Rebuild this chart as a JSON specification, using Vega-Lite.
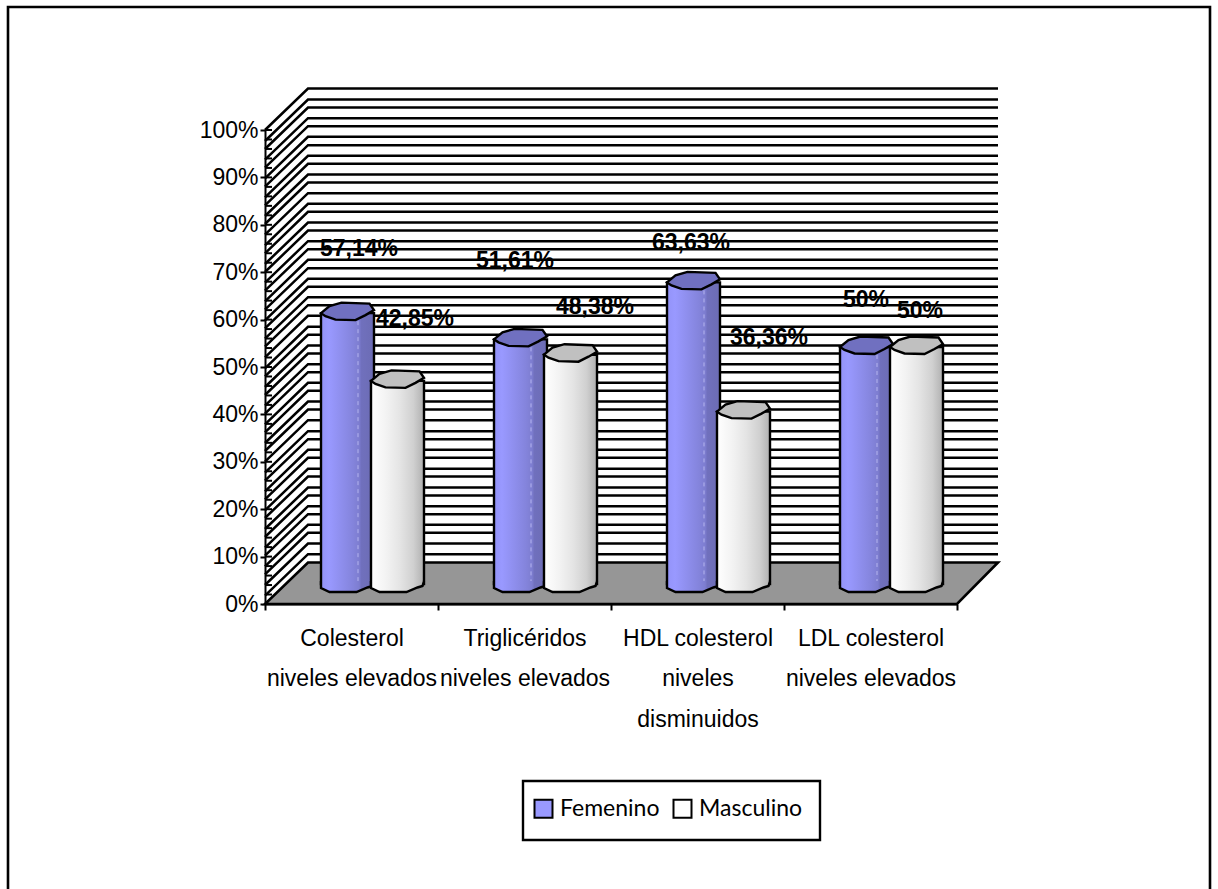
{
"$schema":"https://vega.github.io/schema/vega-lite/v6.json",
"width":692,"height":474,
"padding":{"left":2,"top":1,"right":0,"bottom":0},
"background":"#ffffff",
"config":{"view":{"stroke":null},"font":"Liberation Sans"},
"datasets":{
"lecturas":[
{"categoria":"Colesterol|niveles elevados","serie":"Femenino","valor":57.14,"etiqueta":"57,14%"},
{"categoria":"Colesterol|niveles elevados","serie":"Masculino","valor":42.85,"etiqueta":"42,85%"},
{"categoria":"Triglicéridos|niveles elevados","serie":"Femenino","valor":51.61,"etiqueta":"51,61%"},
{"categoria":"Triglicéridos|niveles elevados","serie":"Masculino","valor":48.38,"etiqueta":"48,38%"},
{"categoria":"HDL colesterol|niveles|disminuidos","serie":"Femenino","valor":63.63,"etiqueta":"63,63%"},
{"categoria":"HDL colesterol|niveles|disminuidos","serie":"Masculino","valor":36.36,"etiqueta":"36,36%"},
{"categoria":"LDL colesterol|niveles elevados","serie":"Femenino","valor":50,"etiqueta":"50%"},
{"categoria":"LDL colesterol|niveles elevados","serie":"Masculino","valor":50,"etiqueta":"50%"}
],
"rejilla":[{"nivel":100},{"nivel":97.68},{"nivel":95.99},{"nivel":93.73},{"nivel":92.05},{"nivel":89.81},{"nivel":88.04},{"nivel":85.8},{"nivel":84.11},{"nivel":81.86},{"nivel":80.17},{"nivel":77.91},{"nivel":75.68},{"nivel":73.99},{"nivel":71.73},{"nivel":70.04},{"nivel":67.78},{"nivel":66.1},{"nivel":63.86},{"nivel":62.09},{"nivel":59.85},{"nivel":58.16},{"nivel":55.97},{"nivel":54.28},{"nivel":52.05},{"nivel":49.73},{"nivel":48.04},{"nivel":45.78},{"nivel":44.09},{"nivel":41.84},{"nivel":40.15},{"nivel":37.91},{"nivel":36.22},{"nivel":33.97},{"nivel":32.28},{"nivel":30.02},{"nivel":27.7},{"nivel":26.01},{"nivel":23.78},{"nivel":22.09},{"nivel":19.77},{"nivel":18.14},{"nivel":15.82},{"nivel":14.14},{"nivel":11.88},{"nivel":10.19},{"nivel":7.95},{"nivel":6.27},{"nivel":4.01},{"nivel":1.75}],
"marcas":[{"nivel":0},{"nivel":2},{"nivel":4},{"nivel":6},{"nivel":8},{"nivel":10},{"nivel":12},{"nivel":14},{"nivel":16},{"nivel":18},{"nivel":20},{"nivel":22},{"nivel":24},{"nivel":26},{"nivel":28},{"nivel":30},{"nivel":32},{"nivel":34},{"nivel":36},{"nivel":38},{"nivel":40},{"nivel":42},{"nivel":44},{"nivel":46},{"nivel":48},{"nivel":50},{"nivel":52},{"nivel":54},{"nivel":56},{"nivel":58},{"nivel":60},{"nivel":62},{"nivel":64},{"nivel":66},{"nivel":68},{"nivel":70},{"nivel":72},{"nivel":74},{"nivel":76},{"nivel":78},{"nivel":80},{"nivel":82},{"nivel":84},{"nivel":86},{"nivel":88},{"nivel":90},{"nivel":92},{"nivel":94},{"nivel":96},{"nivel":98},{"nivel":100}],
"origen":[{"nivel":0}]
},
"resolve":{"scale":{"x":"independent","y":"independent"}},
"layer":[
{"data":{"name":"origen"},
 "mark":{"type":"point","shape":"M-25.7,28.5L-25.7,-59.7L94.5,-59.7L94.5,28.5","size":400,"filled":false,"stroke":"#000000","strokeWidth":2.6,"opacity":1},
 "encoding":{"x":{"datum":0,"type":"quantitative","axis":null,"scale":{"domain":[0,1],"nice":false}},"y":{"field":"nivel","type":"quantitative","axis":null,"scale":{"domain":[0,100],"nice":false}}}},
{"data":{"name":"rejilla"},
 "mark":{"type":"point","shape":"M0,0L4.3,-4.15L73.3,-4.15","size":400,"filled":false,"stroke":"#000000","strokeWidth":2.5,"opacity":1},
 "encoding":{"x":{"datum":0,"type":"quantitative","axis":null,"scale":{"domain":[0,1],"nice":false}},"y":{"field":"nivel","type":"quantitative","axis":null,"scale":{"domain":[0,100],"nice":false}}}},
{"data":{"name":"marcas"},
 "mark":{"type":"point","shape":"M0,0L.7,0","size":400,"filled":false,"stroke":"#000000","strokeWidth":2,"opacity":1},
 "encoding":{"x":{"datum":0,"type":"quantitative","axis":null,"scale":{"domain":[0,1],"nice":false}},"y":{"field":"nivel","type":"quantitative","axis":null,"scale":{"domain":[0,100],"nice":false}}}},
{"data":{"name":"origen"},
 "mark":{"type":"point","shape":"M0,0L69.2,0L73.3,-4.15L4.3,-4.15Z","size":400,"filled":true,"fill":"#969696","stroke":"#000000","strokeWidth":2.6,"opacity":1},
 "encoding":{"x":{"datum":0,"type":"quantitative","axis":null,"scale":{"domain":[0,1],"nice":false}},"y":{"field":"nivel","type":"quantitative","axis":null,"scale":{"domain":[0,100],"nice":false}}}},
{"data":{"name":"origen"},
 "mark":{"type":"point","shape":"M25.8,17.7L55.5,17.7L55.5,23.6L25.8,23.6Z","size":400,"filled":true,"fill":"#ffffff","stroke":"#000000","strokeWidth":2.4,"opacity":1},
 "encoding":{"x":{"datum":0,"type":"quantitative","axis":null,"scale":{"domain":[0,1],"nice":false}},"y":{"field":"nivel","type":"quantitative","axis":null,"scale":{"domain":[0,100],"nice":false}}}},

{"data":{"name":"lecturas"},
 "mark":{"type":"point","size":0,"filled":true,"opacity":1},
 "encoding":{
  "x":{"field":"categoria","type":"nominal","title":null,"sort":null,
   "axis":{"labelExpr":"split(datum.label,'|')","labelAngle":0,"tickBand":"extent","tickSize":6,"tickWidth":2,"tickColor":"#000000","domainColor":"#000000","domainWidth":2,"labelFontSize":23,"labelFont":"Liberation Sans","labelColor":"#000000","labelLineHeight":40.5,"labelPadding":17,"labelOverlap":false,"labelBound":false,"labelFlush":false,"grid":false}},
  "y":{"field":"valor","type":"quantitative","title":null,"scale":{"domain":[0,100],"nice":false},
   "axis":{"values":[0,10,20,30,40,50,60,70,80,90,100],"labelExpr":"datum.value+'%'","tickSize":5,"tickWidth":2,"tickColor":"#000000","domainColor":"#000000","domainWidth":2,"labelFontSize":23,"labelFont":"Liberation Sans","labelColor":"#000000","labelPadding":2,"grid":false}},
  "color":{"field":"serie","type":"nominal","scale":{"domain":["Femenino","Masculino"],"range":["#9999ff","#ffffff"]},
   "legend":{"title":null,"orient":"none","legendX":267,"legendY":667,"direction":"horizontal","columns":2,"symbolType":"square","symbolSize":324,"symbolStrokeColor":"#000000","symbolStrokeWidth":2,"symbolOpacity":1,"labelFont":"Lato","labelFontSize":23,"labelColor":"#000000","labelOffset":5,"columnPadding":9,"padding":0}}
 }},

{"data":{"name":"lecturas"},"transform":[{"filter":"datum.serie=='Femenino'"}],
 "mark":{"type":"bar","size":53,"stroke":"#000000","strokeWidth":2.4,"fill":{"x1":0,"y1":0,"x2":1,"y2":0,"gradient":"linear","stops":[{"offset":0,"color":"#9393f8"},{"offset":0.15,"color":"#9999ff"},{"offset":0.6,"color":"#8484dc"},{"offset":0.72,"color":"#7d7dd0"},{"offset":0.76,"color":"#7070bd"},{"offset":1,"color":"#6c6cb4"}]}},
 "encoding":{"x":{"field":"categoria","type":"nominal","sort":null,"axis":null,"scale":{"range":[-4,688]}},
  "y":{"field":"valor","type":"quantitative","axis":null,"scale":{"domain":[-4.22,95.78],"nice":false,"zero":false}},"y2":{"datum":0}}},
{"data":{"name":"lecturas"},"transform":[{"filter":"datum.serie=='Femenino'"}],
 "mark":{"type":"rule","stroke":"#b4b4ee","strokeWidth":1,"strokeDash":[4,4]},
 "encoding":{"x":{"field":"categoria","type":"nominal","sort":null,"axis":null,"scale":{"range":[6.5,698.5]}},
  "y":{"field":"valor","type":"quantitative","axis":null,"scale":{"domain":[-4.22,95.78],"nice":false,"zero":false}},"y2":{"datum":0}}},
{"data":{"name":"lecturas"},"transform":[{"filter":"datum.serie=='Femenino'"}],
 "mark":{"type":"point","shape":"M-2.65,0L-1.8,-.7L-.6,-1.05L2.2,-.95L2.65,-.3L1.8,.2L.8,.7L-1.2,.65L-2.2,.3Z","size":400,"filled":true,"fill":"#7070c0","stroke":"#000000","strokeWidth":2.4,"opacity":1},
 "encoding":{"x":{"field":"categoria","type":"nominal","sort":null,"axis":null,"scale":{"range":[-4,688]}},
  "y":{"field":"valor","type":"quantitative","axis":null,"scale":{"domain":[-4.22,95.78],"nice":false,"zero":false}}}},
{"data":{"name":"lecturas"},"transform":[{"filter":"datum.serie=='Femenino'"}],
 "mark":{"type":"point","shape":"M-2.65,-.3L-2.65,.4L-1.8,.8L.9,.8L2,.35L2.5,.2L2.65,-.3","size":400,"filled":true,"fill":{"x1":0,"y1":0,"x2":1,"y2":0,"gradient":"linear","stops":[{"offset":0,"color":"#9393f8"},{"offset":0.15,"color":"#9999ff"},{"offset":0.6,"color":"#8484dc"},{"offset":0.72,"color":"#7d7dd0"},{"offset":0.76,"color":"#7070bd"},{"offset":1,"color":"#6c6cb4"}]},"stroke":"#000000","strokeWidth":2.4,"opacity":1},
 "encoding":{"x":{"field":"categoria","type":"nominal","sort":null,"axis":null,"scale":{"range":[-4,688]}},
  "y":{"datum":0,"type":"quantitative","axis":null,"scale":{"domain":[-4.22,95.78],"nice":false,"zero":false}}}},

{"data":{"name":"lecturas"},"transform":[{"filter":"datum.serie=='Masculino'"}],
 "mark":{"type":"bar","size":53,"stroke":"#000000","strokeWidth":2.4,"fill":{"x1":0,"y1":0,"x2":1,"y2":0,"gradient":"linear","stops":[{"offset":0,"color":"#ffffff"},{"offset":0.3,"color":"#f2f2f2"},{"offset":0.55,"color":"#e4e4e4"},{"offset":0.8,"color":"#d0d0d0"},{"offset":1,"color":"#b0b0b0"}]}},
 "encoding":{"x":{"field":"categoria","type":"nominal","sort":null,"axis":null,"scale":{"range":[46,738]}},
  "y":{"field":"valor","type":"quantitative","axis":null,"scale":{"domain":[-4.22,95.78],"nice":false,"zero":false}},"y2":{"datum":0}}},
{"data":{"name":"lecturas"},"transform":[{"filter":"datum.serie=='Masculino'"}],
 "mark":{"type":"point","shape":"M-2.65,0L-1.8,-.7L-.6,-1.05L2.2,-.95L2.65,-.3L1.8,.2L.8,.7L-1.2,.65L-2.2,.3Z","size":400,"filled":true,"fill":"#c0c0c0","stroke":"#000000","strokeWidth":2.4,"opacity":1},
 "encoding":{"x":{"field":"categoria","type":"nominal","sort":null,"axis":null,"scale":{"range":[46,738]}},
  "y":{"field":"valor","type":"quantitative","axis":null,"scale":{"domain":[-4.22,95.78],"nice":false,"zero":false}}}},
{"data":{"name":"lecturas"},"transform":[{"filter":"datum.serie=='Masculino'"}],
 "mark":{"type":"point","shape":"M-2.65,-.3L-2.65,.4L-1.8,.8L.9,.8L2,.35L2.5,.2L2.65,-.3","size":400,"filled":true,"fill":{"x1":0,"y1":0,"x2":1,"y2":0,"gradient":"linear","stops":[{"offset":0,"color":"#ffffff"},{"offset":0.3,"color":"#f2f2f2"},{"offset":0.55,"color":"#e4e4e4"},{"offset":0.8,"color":"#d0d0d0"},{"offset":1,"color":"#b0b0b0"}]},"stroke":"#000000","strokeWidth":2.4,"opacity":1},
 "encoding":{"x":{"field":"categoria","type":"nominal","sort":null,"axis":null,"scale":{"range":[46,738]}},
  "y":{"datum":0,"type":"quantitative","axis":null,"scale":{"domain":[-4.22,95.78],"nice":false,"zero":false}}}},

{"data":{"name":"lecturas"},"transform":[{"filter":"indexof(datum.categoria,'Colesterol')==0 && datum.serie=='Femenino'"}],
 "mark":{"type":"text","dx":7.5,"dy":-84,"fontWeight":"bold","fontSize":23,"font":"Liberation Sans","fill":"#000000"},
 "encoding":{"text":{"field":"etiqueta"},"x":{"field":"categoria","type":"nominal","axis":null,"scale":{"domain":["Colesterol|niveles elevados","Triglicéridos|niveles elevados","HDL colesterol|niveles|disminuidos","LDL colesterol|niveles elevados"]}},"y":{"field":"valor","type":"quantitative","axis":null,"scale":{"domain":[0,100],"nice":false}}}},
{"data":{"name":"lecturas"},"transform":[{"filter":"indexof(datum.categoria,'Colesterol')==0 && datum.serie=='Masculino'"}],
 "mark":{"type":"text","dx":63.5,"dy":-82,"fontWeight":"bold","fontSize":23,"font":"Liberation Sans","fill":"#000000"},
 "encoding":{"text":{"field":"etiqueta"},"x":{"field":"categoria","type":"nominal","axis":null,"scale":{"domain":["Colesterol|niveles elevados","Triglicéridos|niveles elevados","HDL colesterol|niveles|disminuidos","LDL colesterol|niveles elevados"]}},"y":{"field":"valor","type":"quantitative","axis":null,"scale":{"domain":[0,100],"nice":false}}}},
{"data":{"name":"lecturas"},"transform":[{"filter":"indexof(datum.categoria,'Trigl')==0 && datum.serie=='Femenino'"}],
 "mark":{"type":"text","dx":-9.5,"dy":-98,"fontWeight":"bold","fontSize":23,"font":"Liberation Sans","fill":"#000000"},
 "encoding":{"text":{"field":"etiqueta"},"x":{"field":"categoria","type":"nominal","axis":null,"scale":{"domain":["Colesterol|niveles elevados","Triglicéridos|niveles elevados","HDL colesterol|niveles|disminuidos","LDL colesterol|niveles elevados"]}},"y":{"field":"valor","type":"quantitative","axis":null,"scale":{"domain":[0,100],"nice":false}}}},
{"data":{"name":"lecturas"},"transform":[{"filter":"indexof(datum.categoria,'Trigl')==0 && datum.serie=='Masculino'"}],
 "mark":{"type":"text","dx":70.5,"dy":-68,"fontWeight":"bold","fontSize":23,"font":"Liberation Sans","fill":"#000000"},
 "encoding":{"text":{"field":"etiqueta"},"x":{"field":"categoria","type":"nominal","axis":null,"scale":{"domain":["Colesterol|niveles elevados","Triglicéridos|niveles elevados","HDL colesterol|niveles|disminuidos","LDL colesterol|niveles elevados"]}},"y":{"field":"valor","type":"quantitative","axis":null,"scale":{"domain":[0,100],"nice":false}}}},
{"data":{"name":"lecturas"},"transform":[{"filter":"indexof(datum.categoria,'HDL')==0 && datum.serie=='Femenino'"}],
 "mark":{"type":"text","dx":-6.5,"dy":-59,"fontWeight":"bold","fontSize":23,"font":"Liberation Sans","fill":"#000000"},
 "encoding":{"text":{"field":"etiqueta"},"x":{"field":"categoria","type":"nominal","axis":null,"scale":{"domain":["Colesterol|niveles elevados","Triglicéridos|niveles elevados","HDL colesterol|niveles|disminuidos","LDL colesterol|niveles elevados"]}},"y":{"field":"valor","type":"quantitative","axis":null,"scale":{"domain":[0,100],"nice":false}}}},
{"data":{"name":"lecturas"},"transform":[{"filter":"indexof(datum.categoria,'HDL')==0 && datum.serie=='Masculino'"}],
 "mark":{"type":"text","dx":71.5,"dy":-94,"fontWeight":"bold","fontSize":23,"font":"Liberation Sans","fill":"#000000"},
 "encoding":{"text":{"field":"etiqueta"},"x":{"field":"categoria","type":"nominal","axis":null,"scale":{"domain":["Colesterol|niveles elevados","Triglicéridos|niveles elevados","HDL colesterol|niveles|disminuidos","LDL colesterol|niveles elevados"]}},"y":{"field":"valor","type":"quantitative","axis":null,"scale":{"domain":[0,100],"nice":false}}}},
{"data":{"name":"lecturas"},"transform":[{"filter":"indexof(datum.categoria,'LDL')==0 && datum.serie=='Femenino'"}],
 "mark":{"type":"text","dx":-4.5,"dy":-67,"fontWeight":"bold","fontSize":23,"font":"Liberation Sans","fill":"#000000"},
 "encoding":{"text":{"field":"etiqueta"},"x":{"field":"categoria","type":"nominal","axis":null,"scale":{"domain":["Colesterol|niveles elevados","Triglicéridos|niveles elevados","HDL colesterol|niveles|disminuidos","LDL colesterol|niveles elevados"]}},"y":{"field":"valor","type":"quantitative","axis":null,"scale":{"domain":[0,100],"nice":false}}}},
{"data":{"name":"lecturas"},"transform":[{"filter":"indexof(datum.categoria,'LDL')==0 && datum.serie=='Masculino'"}],
 "mark":{"type":"text","dx":49.5,"dy":-56,"fontWeight":"bold","fontSize":23,"font":"Liberation Sans","fill":"#000000"},
 "encoding":{"text":{"field":"etiqueta"},"x":{"field":"categoria","type":"nominal","axis":null,"scale":{"domain":["Colesterol|niveles elevados","Triglicéridos|niveles elevados","HDL colesterol|niveles|disminuidos","LDL colesterol|niveles elevados"]}},"y":{"field":"valor","type":"quantitative","axis":null,"scale":{"domain":[0,100],"nice":false}}}}
]
}
